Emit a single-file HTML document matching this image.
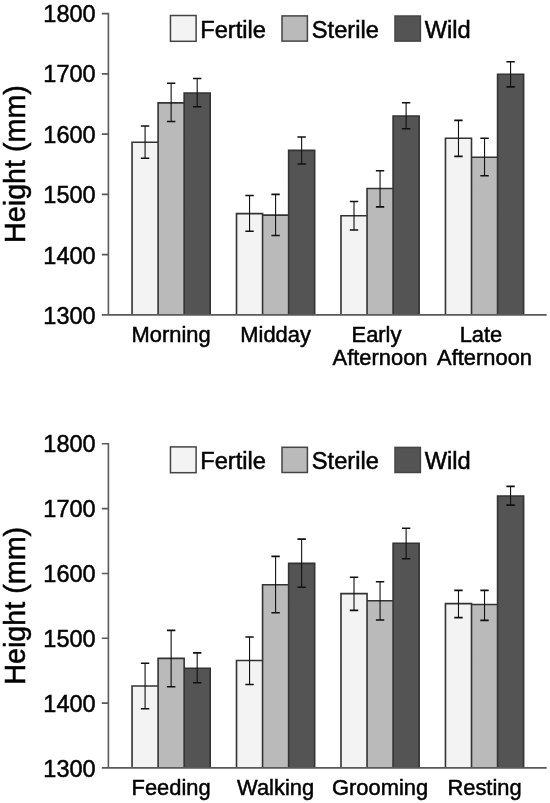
<!DOCTYPE html>
<html><head><meta charset="utf-8"><style>
html,body{margin:0;padding:0;background:#fff;}
body{width:550px;height:803px;overflow:hidden;}
svg{display:block;font-family:"Liberation Sans",sans-serif;filter:blur(0.35px);}
text{fill:#000;stroke:#000;stroke-width:0.5;}
</style></head><body>
<svg width="550" height="803" viewBox="0 0 550 803">
<rect x="132.05" y="142.2" width="26.05" height="172.7" fill="#f3f3f3"/>
<rect x="158.1" y="102.9" width="26.05" height="212" fill="#bababa"/>
<rect x="184.15" y="93" width="26.05" height="221.9" fill="#545454"/>
<rect x="236.52" y="213.6" width="26.05" height="101.3" fill="#f3f3f3"/>
<rect x="262.57" y="215.1" width="26.05" height="99.8" fill="#bababa"/>
<rect x="288.62" y="150.4" width="26.05" height="164.5" fill="#545454"/>
<rect x="340.99" y="215.8" width="26.05" height="99.1" fill="#f3f3f3"/>
<rect x="367.04" y="188.5" width="26.05" height="126.4" fill="#bababa"/>
<rect x="393.09" y="116" width="26.05" height="198.9" fill="#545454"/>
<rect x="445.46" y="138.3" width="26.05" height="176.6" fill="#f3f3f3"/>
<rect x="471.51" y="157.3" width="26.05" height="157.6" fill="#bababa"/>
<rect x="497.56" y="74.2" width="26.05" height="240.7" fill="#545454"/>
<path d="M132.05 314.9V142.2H158.1V314.9M158.1 314.9V102.9H184.15V314.9M184.15 314.9V93H210.2V314.9M236.52 314.9V213.6H262.57V314.9M262.57 314.9V215.1H288.62V314.9M288.62 314.9V150.4H314.67V314.9M340.99 314.9V215.8H367.04V314.9M367.04 314.9V188.5H393.09V314.9M393.09 314.9V116H419.14V314.9M445.46 314.9V138.3H471.51V314.9M471.51 314.9V157.3H497.56V314.9M497.56 314.9V74.2H523.61V314.9" fill="none" stroke="#333333" stroke-width="1.6"/>
<path d="M145.08 126V158.2M171.13 83.3V121.5M197.18 78.5V106.7M249.55 195.5V231.3M275.59 194.4V235.5M301.64 137V164M354.01 201.5V230M380.06 170.7V206.9M406.12 102.7V128.7M458.48 120.4V156.4M484.53 138.3V175.8M510.58 61.8V86.9" fill="none" stroke="#111111" stroke-width="1.1"/>
<path d="M140.88 126H149.28M140.88 158.2H149.28M166.93 83.3H175.33M166.93 121.5H175.33M192.98 78.5H201.38M192.98 106.7H201.38M245.35 195.5H253.75M245.35 231.3H253.75M271.39 194.4H279.79M271.39 235.5H279.79M297.44 137H305.84M297.44 164H305.84M349.81 201.5H358.21M349.81 230H358.21M375.87 170.7H384.26M375.87 206.9H384.26M401.92 102.7H410.31M401.92 128.7H410.31M454.28 120.4H462.68M454.28 156.4H462.68M480.33 138.3H488.73M480.33 175.8H488.73M506.38 61.8H514.78M506.38 86.9H514.78" fill="none" stroke="#111111" stroke-width="1.6"/>
<path d="M101.8 13.6H108.4V314.9M101.8 314.9H546.7M101.8 73.86H108.4M101.8 134.12H108.4M101.8 194.38H108.4M101.8 254.64H108.4" fill="none" stroke="#5a5a5a" stroke-width="1.6"/>
<text transform="translate(95.6 21.8) scale(1 1.04)" font-size="23.5" text-anchor="end">1800</text>
<text transform="translate(95.6 82.24) scale(1 1.04)" font-size="23.5" text-anchor="end">1700</text>
<text transform="translate(95.6 142.68) scale(1 1.04)" font-size="23.5" text-anchor="end">1600</text>
<text transform="translate(95.6 203.12) scale(1 1.04)" font-size="23.5" text-anchor="end">1500</text>
<text transform="translate(95.6 263.56) scale(1 1.04)" font-size="23.5" text-anchor="end">1400</text>
<text transform="translate(95.6 324) scale(1 1.04)" font-size="23.5" text-anchor="end">1300</text>
<text transform="translate(171.12 342) scale(1 0.97)" font-size="21.9" text-anchor="middle">Morning</text>
<text transform="translate(275.6 342) scale(1 0.97)" font-size="21.9" text-anchor="middle">Midday</text>
<text transform="translate(376.46 342) scale(1 0.97)" font-size="21.9" text-anchor="middle">Early</text>
<text transform="translate(380.06 365.2) scale(1 0.97)" font-size="21.9" text-anchor="middle">Afternoon</text>
<text transform="translate(480.93 342) scale(1 0.97)" font-size="21.9" text-anchor="middle">Late</text>
<text transform="translate(484.53 365.2) scale(1 0.97)" font-size="21.9" text-anchor="middle">Afternoon</text>
<rect x="170.45" y="15.5" width="25.65" height="25.8" fill="#f3f3f3" stroke="#444" stroke-width="1.5"/>
<text transform="translate(200.2 37.5) scale(1 1.03)" font-size="23.7">Fertile</text>
<rect x="282" y="15.9" width="25.4" height="25.2" fill="#bababa" stroke="#444" stroke-width="1.5"/>
<text transform="translate(311.8 37.5) scale(1 1.03)" font-size="23.7">Sterile</text>
<rect x="395" y="16" width="25.4" height="25.1" fill="#545454" stroke="#444" stroke-width="1.5"/>
<text transform="translate(424.7 37.5) scale(1 1.03)" font-size="23.7">Wild</text>
<text transform="translate(24.9 164) rotate(-90) scale(1 1.04)" font-size="28.7" text-anchor="middle">Height (mm)</text>
<rect x="132.05" y="686" width="26.05" height="81.9" fill="#f3f3f3"/>
<rect x="158.1" y="658.4" width="26.05" height="109.5" fill="#bababa"/>
<rect x="184.15" y="668.2" width="26.05" height="99.7" fill="#545454"/>
<rect x="236.52" y="660.5" width="26.05" height="107.4" fill="#f3f3f3"/>
<rect x="262.57" y="584.7" width="26.05" height="183.2" fill="#bababa"/>
<rect x="288.62" y="563.4" width="26.05" height="204.5" fill="#545454"/>
<rect x="340.99" y="593.6" width="26.05" height="174.3" fill="#f3f3f3"/>
<rect x="367.04" y="600.7" width="26.05" height="167.2" fill="#bababa"/>
<rect x="393.09" y="543.3" width="26.05" height="224.6" fill="#545454"/>
<rect x="445.46" y="603.6" width="26.05" height="164.3" fill="#f3f3f3"/>
<rect x="471.51" y="604.5" width="26.05" height="163.4" fill="#bababa"/>
<rect x="497.56" y="496" width="26.05" height="271.9" fill="#545454"/>
<path d="M132.05 767.9V686H158.1V767.9M158.1 767.9V658.4H184.15V767.9M184.15 767.9V668.2H210.2V767.9M236.52 767.9V660.5H262.57V767.9M262.57 767.9V584.7H288.62V767.9M288.62 767.9V563.4H314.67V767.9M340.99 767.9V593.6H367.04V767.9M367.04 767.9V600.7H393.09V767.9M393.09 767.9V543.3H419.14V767.9M445.46 767.9V603.6H471.51V767.9M471.51 767.9V604.5H497.56V767.9M497.56 767.9V496H523.61V767.9" fill="none" stroke="#333333" stroke-width="1.6"/>
<path d="M145.08 663.3V708.7M171.13 630.4V686.7M197.18 652.9V682.7M249.55 637V684.5M275.59 556.4V612.7M301.64 539.1V587.3M354.01 577.3V610.4M380.06 581.8V620M406.12 528.2V558.7M458.48 590.4V617.6M484.53 590.4V620.4M510.58 486.4V505.1" fill="none" stroke="#111111" stroke-width="1.1"/>
<path d="M140.88 663.3H149.28M140.88 708.7H149.28M166.93 630.4H175.33M166.93 686.7H175.33M192.98 652.9H201.38M192.98 682.7H201.38M245.35 637H253.75M245.35 684.5H253.75M271.39 556.4H279.79M271.39 612.7H279.79M297.44 539.1H305.84M297.44 587.3H305.84M349.81 577.3H358.21M349.81 610.4H358.21M375.87 581.8H384.26M375.87 620H384.26M401.92 528.2H410.31M401.92 558.7H410.31M454.28 590.4H462.68M454.28 617.6H462.68M480.33 590.4H488.73M480.33 620.4H488.73M506.38 486.4H514.78M506.38 505.1H514.78" fill="none" stroke="#111111" stroke-width="1.6"/>
<path d="M101.8 443.8H108.4V767.9M101.8 767.9H546.7M101.8 508.62H108.4M101.8 573.44H108.4M101.8 638.26H108.4M101.8 703.08H108.4" fill="none" stroke="#5a5a5a" stroke-width="1.6"/>
<text transform="translate(95.6 451.8) scale(1 1.04)" font-size="23.5" text-anchor="end">1800</text>
<text transform="translate(95.6 516.8) scale(1 1.04)" font-size="23.5" text-anchor="end">1700</text>
<text transform="translate(95.6 581.8) scale(1 1.04)" font-size="23.5" text-anchor="end">1600</text>
<text transform="translate(95.6 646.8) scale(1 1.04)" font-size="23.5" text-anchor="end">1500</text>
<text transform="translate(95.6 711.8) scale(1 1.04)" font-size="23.5" text-anchor="end">1400</text>
<text transform="translate(95.6 776.8) scale(1 1.04)" font-size="23.5" text-anchor="end">1300</text>
<text transform="translate(171.12 795.4) scale(1 0.97)" font-size="21.9" text-anchor="middle">Feeding</text>
<text transform="translate(275.6 795.4) scale(1 0.97)" font-size="21.9" text-anchor="middle">Walking</text>
<text transform="translate(380.06 795.4) scale(1 0.97)" font-size="21.9" text-anchor="middle">Grooming</text>
<text transform="translate(484.53 795.4) scale(1 0.97)" font-size="21.9" text-anchor="middle">Resting</text>
<rect x="170.45" y="446.9" width="25.65" height="25.8" fill="#f3f3f3" stroke="#444" stroke-width="1.5"/>
<text transform="translate(200.2 468.9) scale(1 1.03)" font-size="23.7">Fertile</text>
<rect x="282" y="447.3" width="25.4" height="25.2" fill="#bababa" stroke="#444" stroke-width="1.5"/>
<text transform="translate(311.8 468.9) scale(1 1.03)" font-size="23.7">Sterile</text>
<rect x="395" y="447.4" width="25.4" height="25.1" fill="#545454" stroke="#444" stroke-width="1.5"/>
<text transform="translate(424.7 468.9) scale(1 1.03)" font-size="23.7">Wild</text>
<text transform="translate(24.9 605.8) rotate(-90) scale(1 1.04)" font-size="28.7" text-anchor="middle">Height (mm)</text>
</svg>
</body></html>
